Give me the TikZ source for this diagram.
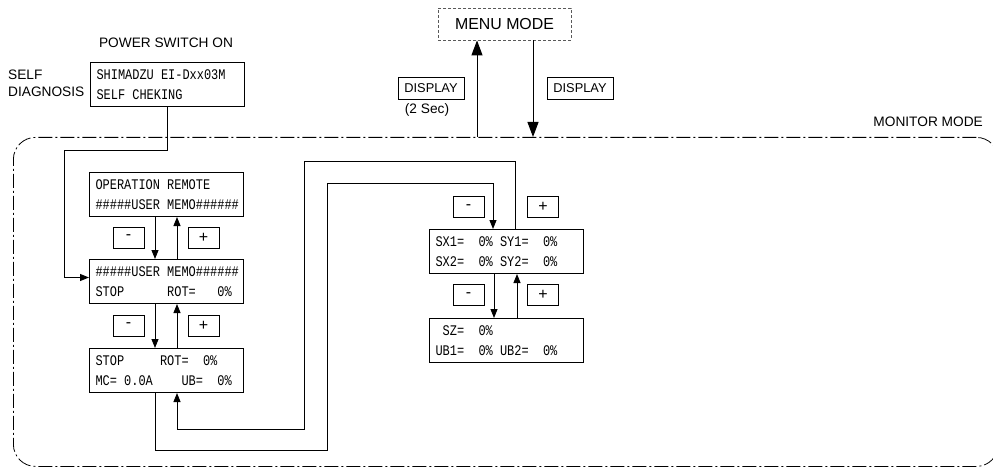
\documentclass[tikz,border=0pt]{standalone}
\usepackage{fontspec}
\setmainfont{Liberation Sans}
\newfontfamily\lcdfam[FakeStretch=0.813]{Liberation Mono}
\newcommand\zs{\phantom{0}}
\usetikzlibrary{arrows.meta}
\begin{document}
\begin{tikzpicture}[x=1pt,y=-1pt,
  lcd/.style={draw, line width=1pt, minimum width=154pt, minimum height=44pt, inner xsep=0pt, inner ysep=0pt, align=left, text width=142pt, font={\lcdfam\fontsize{14.7pt}{20pt}\selectfont}, anchor=north west},
  btn/.style={draw, line width=0.8pt, minimum width=31pt, minimum height=21pt, inner sep=0pt, font=\fontsize{16pt}{16pt}\selectfont},
  dispbtn/.style={draw, line width=0.8pt, minimum width=66pt, minimum height=22pt, inner sep=0pt, font=\fontsize{12.8pt}{13pt}\selectfont},
  lbl/.style={font=\fontsize{13.7pt}{17pt}\selectfont, inner sep=0pt},
  con/.style={line width=0.9pt, -{Triangle[length=9pt,width=7pt]}},
  big/.style={line width=1pt, -{Triangle[length=15pt,width=11pt]}},
]
\useasboundingbox (0,0) rectangle (993,468);

% monitor frame
\node[draw, rounded corners=22pt, dash pattern=on 14pt off 3pt on 2pt off 3pt, line width=0.8pt, minimum width=985pt, minimum height=329pt, anchor=north west, inner sep=0pt] (mon) at (13,137) {};
\node[lbl, anchor=east] (monl) at (983,122) {MONITOR MODE};

% menu mode
\node[draw=black!65, dash pattern=on 3pt off 2pt, line width=0.8pt, minimum width=133pt, minimum height=32pt, inner sep=0pt, font=\fontsize{15.9pt}{16pt}\selectfont] (menu) at (504.5,24) {MENU MODE};
\node[dispbtn] (d1) at (431,88) {DISPLAY};
\node[lbl] (sec) at (427,110) {(2 Sec)};
\node[dispbtn] (d2) at (580,88) {DISPLAY};

% power on
\node[lbl] (psw) at (166,43) {POWER SWITCH ON};
\node[lbl, align=left, anchor=west] (sd) at (8,83.5) {SELF\\DIAGNOSIS};

% LCD boxes
\node[lcd] (self) at (90,62) {SHIMADZU\zs EI-Dxx03M\\SELF\zs CHEKING};
\node[lcd] (b1) at (89,172) {OPERATION\zs REMOTE\\\#\#\#\#\#USER\zs MEMO\#\#\#\#\#\#};
\node[lcd] (b2) at (89,259) {\#\#\#\#\#USER\zs MEMO\#\#\#\#\#\#\\STOP\zs\zs\zs\zs\zs\zs ROT=\zs\zs\zs 0\%};
\node[lcd] (b3) at (89,348) {STOP\zs\zs\zs\zs\zs ROT=\zs\zs 0\%\\MC=\zs 0.0A\zs\zs\zs\zs UB=\zs\zs 0\%};
\node[lcd] (sx) at (429,229) {SX1=\zs\zs 0\%\zs SY1=\zs\zs 0\%\\SX2=\zs\zs 0\%\zs SY2=\zs\zs 0\%};
\node[lcd] (sz) at (429,318) {\zs SZ=\zs\zs 0\%\\UB1=\zs\zs 0\%\zs UB2=\zs\zs 0\%};

% buttons
\node[btn] (bm1) at (128.5,237.5) {-};
\node[btn] (bp1) at (203.5,237.5) {+};
\node[btn] (bm2) at (128.5,325.5) {-};
\node[btn] (bp2) at (203.5,325.5) {+};
\node[btn] (bm3) at (468.5,207) {-};
\node[btn] (bp3) at (543,207) {+};
\node[btn] (bm4) at (468.5,295) {-};
\node[btn] (bp4) at (543,295) {+};

% connectors
\coordinate (xl) at (155,0);
\coordinate (xr) at (177,0);
\draw[con] (b1.south -| xl) -- (b2.north -| xl);
\draw[con] (b2.north -| xr) -- (b1.south -| xr);
\draw[con] (b2.south -| xl) -- (b3.north -| xl);
\draw[con] (b3.north -| xr) -- (b2.south -| xr);

\coordinate (c1) at (64,150);
\draw[con] (self.south) |- (c1) |- ([yshift=4pt]b2.west);

\coordinate (r1) at (327,450);
\coordinate (r2) at (493,183);
\draw[con] (b3.south -| xl) |- (r1) |- (r2) -- (sx.north -| r2);
\coordinate (s0) at (515,0);
\coordinate (s1) at (304,161);
\coordinate (s2) at (177,429);
\draw[con] (sx.north -| s0) |- (s1) |- (s2) -- (b3.south -| s2);

\coordinate (xl2) at (494,0);
\coordinate (xr2) at (517,0);
\draw[con] (sx.south -| xl2) -- (sz.north -| xl2);
\draw[con] (sz.north -| xr2) -- (sx.south -| xr2);

\coordinate (u) at (477,0);
\coordinate (v) at (533,0);
\draw[big] (mon.north -| u) -- (menu.south -| u);
\draw[big] (menu.south -| v) -- (mon.north -| v);
\end{tikzpicture}
\end{document}
